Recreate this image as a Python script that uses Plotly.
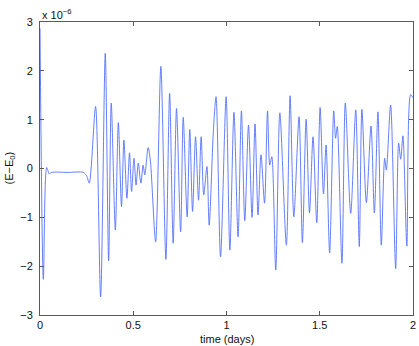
import plotly.graph_objects as go

time_days = [
    0.000, 0.018, 0.036, 0.050, 0.060, 0.150, 0.232, 0.250, 0.264, 0.298,
    0.325, 0.350, 0.368, 0.382, 0.404, 0.420, 0.437, 0.450, 0.466, 0.480,
    0.491, 0.504, 0.515, 0.527, 0.541, 0.553, 0.562, 0.580, 0.592, 0.620,
    0.648, 0.675, 0.695, 0.714, 0.732, 0.754, 0.768, 0.789, 0.803, 0.818,
    0.834, 0.850, 0.864, 0.878, 0.895, 0.907, 0.930, 0.944, 0.968, 0.998,
    1.018, 1.040, 1.062, 1.080, 1.098, 1.118, 1.137, 1.153, 1.169, 1.185,
    1.204, 1.220, 1.232, 1.243, 1.264, 1.286, 1.321, 1.341, 1.361, 1.389,
    1.407, 1.427, 1.445, 1.464, 1.484, 1.502, 1.520, 1.534, 1.553, 1.575,
    1.585, 1.594, 1.619, 1.637, 1.666, 1.693, 1.712, 1.726, 1.750, 1.775,
    1.793, 1.812, 1.830, 1.848, 1.857, 1.880, 1.907, 1.923, 1.934, 1.946,
    1.967, 1.987, 2.000,
]
energy_dev = [
    2.87, -2.27, 0.02, -0.11, -0.08, -0.08, -0.08, -0.15, -0.30, 1.27,
    -2.63, 2.36, -1.89, 1.34, -1.26, 0.94, -0.78, 0.58, -0.61, 0.32,
    -0.47, 0.21, -0.34, 0.11, -0.30, 0.07, -0.13, 0.43, 0.15, -1.50,
    2.09, -1.86, 1.54, -1.53, 1.23, -1.30, 1.05, -0.99, 0.80, -0.88,
    0.65, -0.65, 0.65, -0.54, 0.04, -1.16, 0.80, 1.47, -1.81, 1.47,
    -1.67, 1.15, -1.40, 1.18, -1.07, 0.89, -1.00, 0.91, -0.95, 0.28,
    -0.71, 1.18, 0.07, 0.24, -2.08, 1.14, -1.57, 1.49, -0.99, 1.06,
    -1.52, 1.01, -0.91, 0.65, -1.11, 1.25, -0.52, 0.48, -1.73, 1.18,
    0.62, 0.86, -1.94, 1.34, -0.92, 1.20, -1.60, 1.21, -0.70, 0.87,
    -0.91, 1.16, -1.57, 0.21, -0.03, 1.30, -2.05, 0.52, 0.19, 0.67,
    -1.59, 1.51, 1.45,
]
x_ticks = [0, 0.5, 1, 1.5, 2]
y_ticks = [-3, -2, -1, 0, 1, 2, 3]

_AXIS = "#5a5a5a"
_FONT = "Liberation Sans, Arial, sans-serif"

fig = go.Figure()
fig.add_trace(go.Scatter(
    x=time_days, y=energy_dev, mode="lines",
    line={"color": "#5470ff", "width": 0.9, "shape": "spline", "smoothing": 0.8},
    showlegend=False,
))

axis_common = {
    "showgrid": False, "zeroline": False, "automargin": False,
    "showline": True, "linecolor": _AXIS, "linewidth": 1, "mirror": "ticks",
    "ticks": "inside", "ticklen": 4, "tickcolor": _AXIS,
    "tickfont": {"size": 11, "color": "#111111"},
}

fig.update_layout(
    width=419, height=346,
    paper_bgcolor="white", plot_bgcolor="white",
    font={"family": _FONT, "size": 11, "color": "#111111"},
    margin={"l": 40, "r": 6, "t": 22, "b": 31},
    xaxis={**axis_common, "range": [0, 2], "tickvals": x_ticks,
           "ticktext": [str(v) for v in x_ticks]},
    yaxis={**axis_common, "range": [-3, 3], "tickvals": y_ticks,
           "ticktext": [str(v).replace("-", "\u2212") for v in y_ticks],
           "ticklabelstandoff": 4},
)

fig.add_annotation(
    text="x 10<sup>\u22126</sup>", xref="paper", yref="paper",
    x=0, y=1, xanchor="left", yanchor="bottom", yshift=-1,
    showarrow=False, font={"size": 11},
)
fig.add_annotation(
    text="(E\u2212E<sub>0</sub>)", xref="paper", yref="paper",
    x=0, y=0.5, xanchor="center", yanchor="middle", xshift=-31,
    textangle=-90, showarrow=False, font={"size": 11},
)
fig.add_annotation(
    text="time (days)", xref="paper", yref="paper",
    x=0.5, y=0, xanchor="center", yanchor="top", yshift=-16,
    showarrow=False, font={"size": 11},
)

# drop the browser's default body margin so the figure fills the window
fig.write_html(
    "out.html",
    config={"displayModeBar": False},
    post_script="document.body.style.margin='0';",
)
